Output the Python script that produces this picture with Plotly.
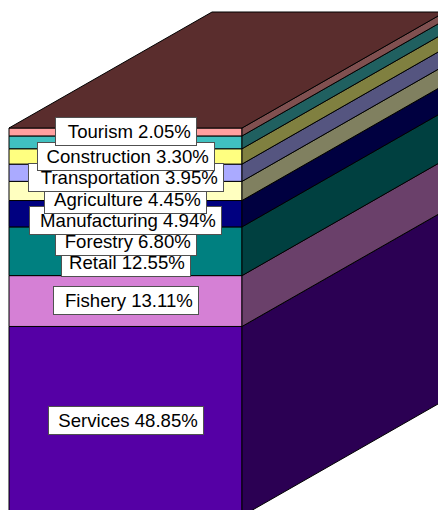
import plotly.graph_objects as go

# Data (bottom of the stack first)
categories = ["Services", "Fishery", "Retail", "Forestry", "Manufacturing",
              "Agriculture", "Transportation", "Construction", "Tourism"]
shares = [48.85, 13.11, 12.55, 6.80, 4.94, 4.45, 3.95, 3.30, 2.05]

front_colors = ["#5500A5", "#D580D5", "#008080", "#000080", "#FFFFC0",
                "#AAAAFF", "#FFFF80", "#40C0C0", "#FFA0A0"]
side_colors = ["#2B0053", "#6A406A", "#004040", "#000040", "#808060",
               "#555580", "#808040", "#206060", "#805050"]
top_color = "#5A2D2D"

# Layout (pixels in the 438x510 picture)
W, H = 438, 510
LEFT, RIGHT = 9, 242
PX_PER_PCT = 3.88
BASE_PX = 516
DEPTH_DX, DEPTH_DY = 203, 116
label_left = [48, 53, 61, 55, 29, 44, 28, 37, 55]
label_right = [204, 199, 191, 197, 222, 207, 224, 215, 197]
label_cy = [420, 300, 262, 241.5, 220, 199, 177, 156, 131.5]
BOX_H = 29

px_per_x = RIGHT - LEFT
xr = [-LEFT / px_per_x, (W - LEFT) / px_per_x]
yr = [(BASE_PX - H) / PX_PER_PCT, BASE_PX / PX_PER_PCT]
dx = DEPTH_DX / px_per_x
dy = DEPTH_DY / PX_PER_PCT

fig = go.Figure()
cum = 0.0
for name, v, fc, sc in zip(categories, shares, front_colors, side_colors):
    fig.add_trace(go.Bar(x=[0.5], y=[v], base=[cum], width=[1], name=name,
                         marker=dict(color=fc, line=dict(color="black", width=1))))
    fig.add_trace(go.Scatter(x=[1, 1 + dx, 1 + dx, 1, 1],
                             y=[cum, cum + dy, cum + v + dy, cum + v, cum],
                             mode="lines", fill="toself", fillcolor=sc,
                             line=dict(color="black", width=1), hoverinfo="skip"))
    cum += v
fig.add_trace(go.Scatter(x=[0, dx, 1 + dx, 1, 0],
                         y=[cum, cum + dy, cum + dy, cum, cum],
                         mode="lines", fill="toself", fillcolor=top_color,
                         line=dict(color="black", width=1), hoverinfo="skip"))

for name, v, l, r, cy in zip(categories, shares, label_left, label_right, label_cy):
    fig.add_annotation(
        x=(l - LEFT) / px_per_x, y=(BASE_PX - cy) / PX_PER_PCT,
        xref="x", yref="y", xanchor="left", yanchor="middle",
        text=f"{name} {v:.2f}%\u00a0", showarrow=False, align="right", valign="middle",
        width=r - l - 2, height=BOX_H - 2, borderpad=0, borderwidth=1,
        bordercolor="#505050", bgcolor="white",
        font=dict(family="Liberation Sans", size=18.6, color="black"))

fig.update_layout(
    width=W, height=H, margin=dict(l=0, r=0, t=0, b=0),
    barmode="overlay", showlegend=False,
    paper_bgcolor="white", plot_bgcolor="white",
    xaxis=dict(range=xr, visible=False, fixedrange=True),
    yaxis=dict(range=yr, visible=False, fixedrange=True),
)
fig.write_html("out.html", config={"displayModeBar": False},
               post_script="document.body.style.margin='0';document.body.style.overflow='hidden';")
